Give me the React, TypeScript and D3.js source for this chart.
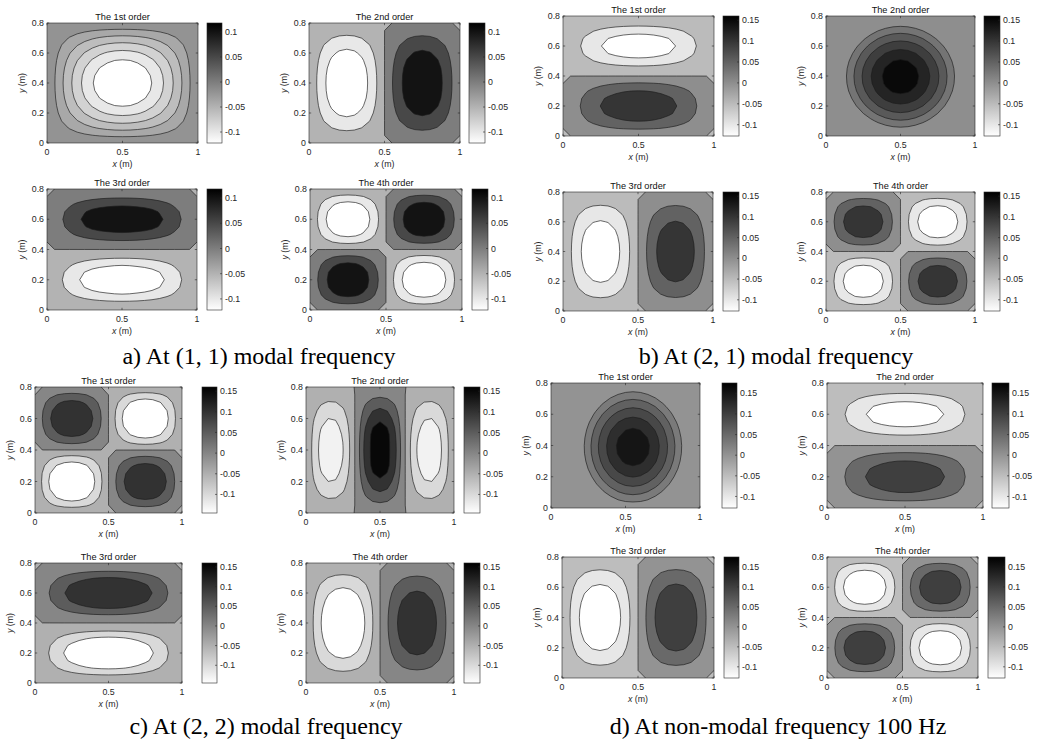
import React from "react";
import * as d3 from "d3";

// ---- text ----
const captions = [
  "a) At (1, 1) modal frequency",
  "b) At (2, 1) modal frequency",
  "c) At (2, 2) modal frequency",
  "d) At non-modal frequency 100 Hz",
];
const panelTitles = ["The 1st order", "The 2nd order", "The 3rd order", "The 4th order"];
const xTicks = [0, 0.5, 1];
const yTicks = [0, 0.2, 0.4, 0.6, 0.8];

// colour limits of each group (shared by its four plots) and colorbar ticks
const colorRanges = [
  [-0.122, 0.118],
  [-0.127, 0.16],
  [-0.145, 0.16],
  [-0.128, 0.175],
];
const cbTicksA = [-0.1, -0.05, 0, 0.05, 0.1];
const cbTicksBCD = [-0.1, -0.05, 0, 0.05, 0.1, 0.15];

// contour levels
const levels02 = [-0.1, -0.08, -0.06, -0.04, -0.02];
const levels03 = [0.03, 0.06, 0.09, 0.12, 0.15];
const levels05 = [-0.1, -0.05, 0, 0.05, 0.1, 0.15];

// lobes of each plot
//   cell lobe:   [x0, x1, y0, y1, peak, sharpness, shape x, shape y]
//   round lobe:  [cx, cy, rx, ry, peak, shape]
const lobesA = [
  [[0, 1, 0, 0.8, -0.122, 1, 1, 1]],
  [[0, 0.5, 0, 0.8, -0.122, 1.3, 1, 1], [0.5, 1, 0, 0.8, 0.118, 1.3, 1, 1]],
  [[0, 1, 0.4, 0.8, 0.118, 1.3, 1, 1.4], [0, 1, 0, 0.4, -0.122, 1.3, 1, 1.4]],
  [
    [0, 0.5, 0.4, 0.8, -0.122, 1.35, 1, 1], [0.5, 1, 0.4, 0.8, 0.118, 1.35, 1, 1],
    [0, 0.5, 0, 0.4, 0.118, 1.35, 1, 1], [0.5, 1, 0, 0.4, -0.122, 1.35, 1, 1],
  ],
];
const lobesB = [
  [[0, 1, 0.4, 0.8, -0.127, 1.1, 1, 1.5], [0, 1, 0, 0.4, 0.13, 1.1, 1, 1]],
  [[0.5, 0.395, 0.41, 0.38, 0.18, 1.5]],
  [[0, 0.5, 0, 0.8, -0.127, 1.15, 1, 1], [0.5, 1, 0, 0.8, 0.125, 1.15, 1, 1]],
  [
    [0, 0.5, 0.4, 0.8, 0.125, 1.2, 1, 1], [0.5, 1, 0.4, 0.8, -0.127, 1.2, 1, 1],
    [0, 0.5, 0, 0.4, -0.127, 1.2, 1, 1], [0.5, 1, 0, 0.4, 0.125, 1.2, 1, 1],
  ],
];
const lobesC = [
  [
    [0, 0.5, 0.4, 0.8, 0.13, 1.25, 1, 1], [0.5, 1, 0.4, 0.8, -0.145, 1.25, 1, 1],
    [0, 0.5, 0, 0.4, -0.145, 1.25, 1, 1], [0.5, 1, 0, 0.4, 0.13, 1.25, 1, 1],
  ],
  [
    [0, 1 / 3, 0, 0.8, -0.13, 1.1, 1, 1], [1 / 3, 2 / 3, 0, 0.8, 0.165, 1.2, 1, 1],
    [2 / 3, 1, 0, 0.8, -0.13, 1.1, 1, 1],
  ],
  [[0, 1, 0.4, 0.8, 0.14, 1.2, 1, 1.4], [0, 1, 0, 0.4, -0.145, 1.2, 1, 1.4]],
  [[0, 0.5, 0, 0.8, -0.145, 1.15, 1, 1], [0.5, 1, 0, 0.8, 0.13, 1.15, 1, 1]],
];
const lobesD = [
  [[0.55, 0.39, 0.37, 0.4, 0.18, 1.5]],
  [[0, 1, 0.4, 0.8, -0.128, 1.1, 1, 1.5], [0, 1, 0, 0.4, 0.13, 1.1, 1, 1]],
  [[0, 0.5, 0, 0.8, -0.128, 1.2, 1, 1], [0.5, 1, 0, 0.8, 0.13, 1.2, 1, 1]],
  [
    [0, 0.5, 0.4, 0.8, -0.128, 1.25, 1, 1], [0.5, 1, 0.4, 0.8, 0.125, 1.25, 1, 1],
    [0, 0.5, 0, 0.4, 0.125, 1.25, 1, 1], [0.5, 1, 0, 0.4, -0.128, 1.25, 1, 1],
  ],
];
const levelsA = [levels02, levels05, levels05, levels05];
const levelsB = [levels05, levels03, levels05, levels05];
const levelsC = [levels05, levels05, levels05, levels05];
const levelsD = [levels03, levels05, levels05, levels05];

// ---- layout: [axes left, top, right, bottom, colorbar left, colorbar right] ----
const layoutA = [[47, 23, 198, 143, 207, 222], [309, 23, 460, 143, 469, 485], [47, 189, 197, 310, 207, 222], [310, 189, 462, 310, 472, 488]];
const layoutB = [[563, 16, 714, 136, 723, 739], [826, 16, 975, 136, 984, 1000], [563, 192, 713, 311, 723, 739], [826, 192, 975, 311, 984, 1000]];
const layoutC = [[35, 387, 182, 513, 202, 217], [306, 387, 454, 513, 464, 480], [35, 563, 182, 683, 202, 217], [306, 563, 454, 683, 464, 480]];
const layoutD = [[551, 383, 700, 508, 722, 737], [827, 383, 983, 508, 992, 1009], [562, 557, 714, 678, 724, 739], [827, 557, 978, 678, 988, 1005]];
const captionPos = [[259, 364], [776, 364], [266, 734], [778, 734]];

const groups = [
  { lobes: lobesA, levels: levelsA, layout: layoutA, cticks: cbTicksA },
  { lobes: lobesB, levels: levelsB, layout: layoutB, cticks: cbTicksBCD },
  { lobes: lobesC, levels: levelsC, layout: layoutC, cticks: cbTicksBCD },
  { lobes: lobesD, levels: levelsD, layout: layoutD, cticks: cbTicksBCD },
];

const STEP = 0.05;
const NX = 21;
const NY = 17;
const SANS = "Liberation Sans, Arial, Helvetica, sans-serif";
const INK = "#262626";

function bump(t, a, b, p) {
  if (t <= a || t >= b) return 0;
  return Math.pow(Math.sin((Math.PI * (t - a)) / (b - a)), p);
}

function fieldAt(lobes, x, y) {
  let v = 0;
  for (const lobe of lobes) {
    if (lobe.length === 6) {
      const [cx, cy, rx, ry, peak, q] = lobe;
      const d = Math.hypot((x - cx) / rx, (y - cy) / ry);
      v += peak * Math.max(0, 1 - Math.pow(d, q));
    } else {
      const [x0, x1, y0, y1, peak, k, px, py] = lobe;
      v += peak * Math.min(1, k * bump(x, x0, x1, px) * bump(y, y0, y1, py));
    }
  }
  return v;
}

// coarse grid like the original solver output; edges take the sign of the lobe next to them
function sampleGrid(lobes) {
  const values = [];
  for (let j = 0; j < NY; j++) {
    for (let i = 0; i < NX; i++) {
      const x = i * STEP, y = j * STEP;
      const onX = i === 0 || i === NX - 1;
      const onY = j === 0 || j === NY - 1;
      let v;
      if (onX && onY) v = -1e-4;
      else if (onX || onY) {
        const xi = i === 0 ? STEP / 2 : i === NX - 1 ? 1 - STEP / 2 : x;
        const yi = j === 0 ? STEP / 2 : j === NY - 1 ? 0.8 - STEP / 2 : y;
        const f = fieldAt(lobes, xi, yi);
        v = Math.abs(f) < 1e-9 ? -1e-4 : Math.sign(f) * 1e-6;
      } else {
        const f = fieldAt(lobes, x, y);
        v = Math.abs(f) < 1e-9 ? -1e-4 : f;
      }
      values.push(v);
    }
  }
  return values;
}

const fmt = (v) => (v === 0 ? "0" : String(+v.toFixed(2)));

function Panel({ id, lobes, levels, title, box, crange, cticks }) {
  const [l, t, r, b, cl, cr] = box;
  const x = d3.scaleLinear().domain([0, 1]).range([l, r]);
  const y = d3.scaleLinear().domain([0, 0.8]).range([b, t]);
  const cy = d3.scaleLinear().domain(crange).range([b, t]);
  const color = d3.scaleLinear().domain(crange).range(["#ffffff", "#000000"]).clamp(true);

  const values = sampleGrid(lobes);
  const vmin = d3.min(values);
  const bands = d3.contours().size([NX, NY]).thresholds(levels)(values);
  const proj = d3.geoTransform({
    point(px, py) {
      this.stream.point(x((px - 0.5) * STEP), y((py - 0.5) * STEP));
    },
  });
  const path = d3.geoPath(proj);
  const tl = 2.2;

  return (
    <g>
      <defs>
        <clipPath id={`clip${id}`}>
          <rect x={l} y={t} width={r - l} height={b - t} />
        </clipPath>
      </defs>
      <g clipPath={`url(#clip${id})`}>
        <rect x={l} y={t} width={r - l} height={b - t} fill={color(vmin)} />
        {bands.map((c, k) => (
          <path key={k} d={path(c) || ""} fill={color(c.value)} stroke="#1a1a1a" strokeWidth={0.65} strokeLinejoin="round" />
        ))}
      </g>
      <rect x={l} y={t} width={r - l} height={b - t} fill="none" stroke={INK} strokeWidth={0.6} />
      {xTicks.map((v) => (
        <g key={"x" + v}>
          <line x1={x(v)} x2={x(v)} y1={b} y2={b - tl} stroke={INK} strokeWidth={0.6} />
          <line x1={x(v)} x2={x(v)} y1={t} y2={t + tl} stroke={INK} strokeWidth={0.6} />
          <text x={x(v)} y={b + 12} textAnchor="middle" fontSize={8.8} fill={INK}>{fmt(v)}</text>
        </g>
      ))}
      {yTicks.map((v) => (
        <g key={"y" + v}>
          <line x1={l} x2={l + tl} y1={y(v)} y2={y(v)} stroke={INK} strokeWidth={0.6} />
          <line x1={r} x2={r - tl} y1={y(v)} y2={y(v)} stroke={INK} strokeWidth={0.6} />
          <text x={l - 3} y={y(v)} dy="0.35em" textAnchor="end" fontSize={8.8} fill={INK}>{fmt(v)}</text>
        </g>
      ))}
      <text x={(l + r) / 2} y={b + 24} textAnchor="middle" fontSize={8.8} fill={INK}>
        <tspan fontStyle="italic">x</tspan> (m)
      </text>
      <text transform={`translate(${l - 22},${(t + b) / 2}) rotate(-90)`} textAnchor="middle" fontSize={8.8} fill={INK}>
        <tspan fontStyle="italic">y</tspan> (m)
      </text>
      <text x={(l + r) / 2} y={t - 3.5} textAnchor="middle" fontSize={9.2} fill="#111">{title}</text>

      <rect x={cl} y={t} width={cr - cl} height={b - t} fill={`url(#cbar)`} stroke={INK} strokeWidth={0.6} />
      {cticks.map((v) => (
        <g key={"c" + v}>
          <line x1={cr} x2={cr - 2} y1={cy(v)} y2={cy(v)} stroke={INK} strokeWidth={0.6} />
          <text x={cr + 3} y={cy(v)} dy="0.35em" fontSize={8.8} fill={INK}>{fmt(v)}</text>
        </g>
      ))}
    </g>
  );
}

export default function App() {
  return (
    <svg width={1039} height={743} style={{ position: "absolute", left: 0, top: 0, background: "#fff" }} fontFamily={SANS}>
      <defs>
        <linearGradient id="cbar" x1="0" y1="1" x2="0" y2="0">
          <stop offset="0" stopColor="#ffffff" />
          <stop offset="1" stopColor="#000000" />
        </linearGradient>
      </defs>
      <rect width={1039} height={743} fill="#fff" />
      {groups.map((g, gi) => (
        <g key={gi}>
          {g.layout.map((box, pi) => (
            <Panel
              key={pi}
              id={`${gi}_${pi}`}
              lobes={g.lobes[pi]}
              levels={g.levels[pi]}
              title={panelTitles[pi]}
              box={box}
              crange={colorRanges[gi]}
              cticks={g.cticks}
            />
          ))}
          <text x={captionPos[gi][0]} y={captionPos[gi][1]} textAnchor="middle" fontSize={24}
            fontFamily="Liberation Serif, Times New Roman, serif" fill="#000">
            {captions[gi]}
          </text>
        </g>
      ))}
    </svg>
  );
}
